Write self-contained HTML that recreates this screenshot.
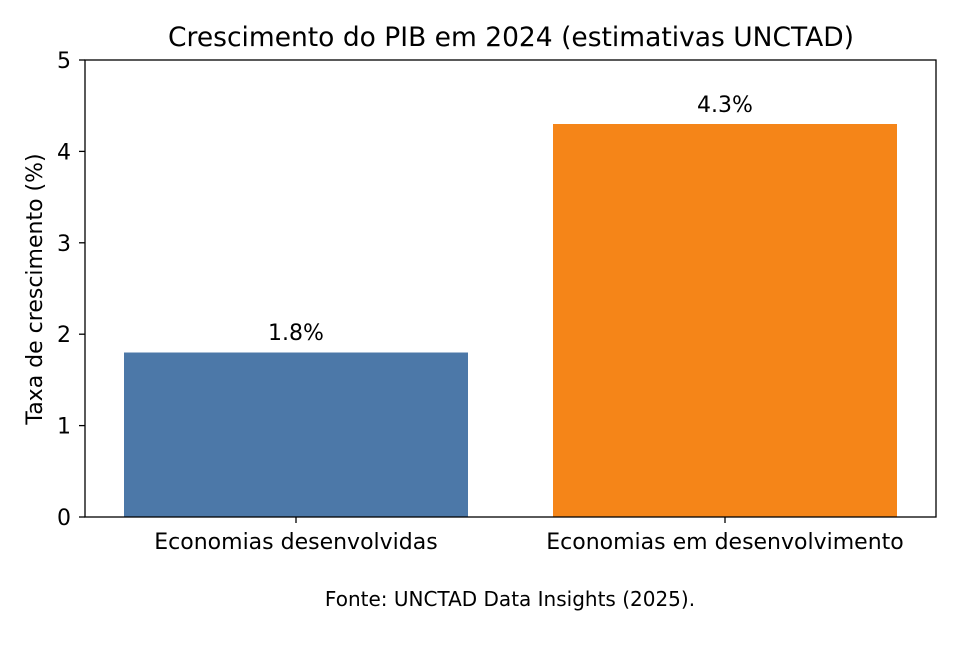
<!DOCTYPE html>
<html><head><meta charset="utf-8"><style>
body{margin:0;background:#fff;}
svg text{font-family:"DejaVu Sans","Liberation Sans",sans-serif;fill:#000;}
</style></head><body>
<svg width="960" height="640" viewBox="0 0 960 640" xmlns="http://www.w3.org/2000/svg">
<rect width="960" height="640" fill="#fff"/>
<rect x="124" y="352.5" width="344" height="164.5" fill="#4c78a8"/>
<rect x="553" y="124" width="344" height="393" fill="#f58518"/>
<rect x="85" y="60" width="851" height="457" fill="none" stroke="#000" stroke-width="1.3"/>
<g stroke="#000" stroke-width="1.3">
<line x1="85" y1="517" x2="79" y2="517"/><line x1="85" y1="425.6" x2="79" y2="425.6"/>
<line x1="85" y1="334.2" x2="79" y2="334.2"/><line x1="85" y1="242.8" x2="79" y2="242.8"/>
<line x1="85" y1="151.4" x2="79" y2="151.4"/><line x1="85" y1="60" x2="79" y2="60"/>
<line x1="296" y1="517" x2="296" y2="523"/><line x1="725" y1="517" x2="725" y2="523"/>
</g>
<g font-size="22" text-anchor="end">
<text x="71" y="525">0</text><text x="71" y="433.6">1</text><text x="71" y="342.2">2</text>
<text x="71" y="250.8">3</text><text x="71" y="159.4">4</text><text x="71" y="68">5</text>
</g>
<g font-size="22" text-anchor="middle">
<text x="296" y="549">Economias desenvolvidas</text>
<text x="725" y="549">Economias em desenvolvimento</text>
<text x="296" y="340">1.8%</text>
<text x="725" y="112">4.3%</text>
</g>
<text x="511" y="46" font-size="26.5" text-anchor="middle">Crescimento do PIB em 2024 (estimativas UNCTAD)</text>
<text transform="translate(42,289) rotate(-90)" font-size="22" text-anchor="middle">Taxa de crescimento (%)</text>
<text x="510" y="606" font-size="20" text-anchor="middle">Fonte: UNCTAD Data Insights (2025).</text>
</svg>
</body></html>
